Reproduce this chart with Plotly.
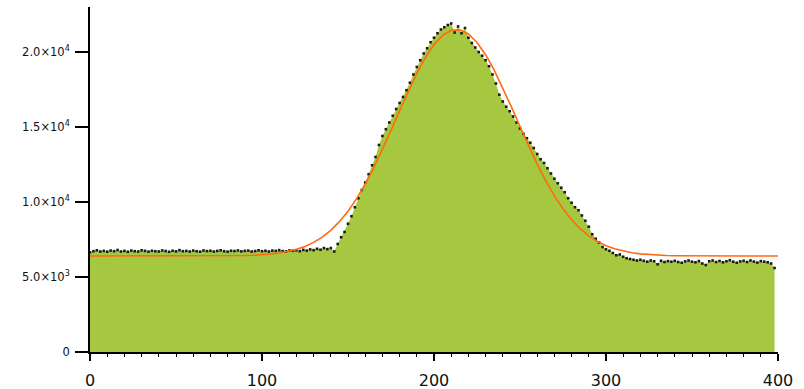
import plotly.graph_objects as go

# Channel positions (every 2 units) and measured counts
channels = list(range(0, 400, 2))
counts = [
    6650, 6720, 6780, 6700, 6740, 6690, 6760, 6720, 6800, 6700,
    6740, 6680, 6760, 6720, 6700, 6780, 6740, 6690, 6750, 6720,
    6700, 6770, 6730, 6680, 6750, 6710, 6790, 6720, 6740, 6700,
    6760, 6720, 6690, 6770, 6730, 6750, 6700, 6740, 6780, 6720,
    6690, 6750, 6730, 6770, 6710, 6740, 6760, 6700, 6730, 6780,
    6720, 6750, 6700, 6760, 6740, 6790, 6730, 6710, 6770, 6750,
    6780, 6720, 6810, 6760, 6840, 6790, 6880, 6820, 6930, 6860,
    6930, 6700, 7200, 7650, 8000, 8550, 9050, 9650, 10250, 10800,
    11300, 11850, 12450, 13000, 13800, 14400, 14850, 15300, 15750, 16200,
    16600, 17000, 17450, 17950, 18500, 19000, 19450, 19900, 20250, 20650,
    20950, 21250, 21500, 21650, 21800, 21900, 21300, 21700, 21250, 21600,
    20950, 20600, 20300, 20000, 19750, 19450, 19050, 18500, 17900, 17150,
    16700, 16350, 16050, 15700, 15300, 14900, 14550, 14250, 13950, 13600,
    13200, 12850, 12600, 12250, 11900, 11550, 11250, 10950, 10650, 10250,
    9950, 9650, 9450, 9100, 8750, 8350, 7850, 7550, 7300, 7000,
    6850, 6750, 6600, 6450, 6500, 6350, 6250, 6200, 6150, 6100,
    6150, 6080, 6020, 6100, 6050, 5850, 6080, 6000, 6060, 6020,
    6080, 6000, 5950, 6040, 6100, 6020, 5980, 6060, 5900, 5800,
    6050, 6100, 6000, 6070, 5980, 6050, 6120, 6020, 5950, 6040,
    6080, 6000, 6100, 6030, 5960, 6060, 6020, 5980, 5900, 5600,
]

# Fitted curve (Gaussian peak on a flat baseline), tabulated every 5 units
fit_x = list(range(0, 405, 5))
fit_y = [
    6400, 6400, 6400, 6400, 6400, 6400, 6400, 6400, 6400, 6400,
    6400, 6400, 6400, 6401, 6402, 6404, 6411, 6419, 6431, 6451,
    6482, 6529, 6599, 6700, 6843, 7040, 7308, 7661, 8115, 8688,
    9388, 10225, 11197, 12296, 13499, 14776, 16081, 17364, 18568, 19631,
    20493, 21110, 21444, 21475, 21201, 20638, 19819, 18793, 17613, 16342,
    15036, 13751, 12529, 11409, 10409, 9545, 8818, 8220, 7742, 7371,
    7087, 6877, 6724, 6616, 6541, 6490, 6457, 6435, 6421, 6412,
    6407, 6404, 6402, 6401, 6400, 6400, 6400, 6400, 6400, 6400,
    6400,
]

y_tick_vals = [0, 5000, 10000, 15000, 20000]
y_tick_text = ["0", "5.0×10<sup>3</sup>", "1.0×10<sup>4</sup>",
               "1.5×10<sup>4</sup>", "2.0×10<sup>4</sup>"]
x_tick_vals = [0, 100, 200, 300, 400]

fig = go.Figure()

# Filled histogram area
fig.add_trace(go.Scatter(
    x=channels, y=counts, mode="lines", line=dict(width=0, color="#a6c740"),
    fill="tozeroy", fillcolor="#a6c740", hoverinfo="skip", showlegend=False,
))
# Individual data points
fig.add_trace(go.Scatter(
    x=channels, y=counts, mode="markers",
    marker=dict(size=2.6, color="#1a1a1a", symbol="square"), showlegend=False,
))
# Fit curve
fig.add_trace(go.Scatter(
    x=fit_x, y=fit_y, mode="lines", line=dict(color="#ff6a10", width=1.6),
    showlegend=False,
))

fig.update_layout(
    width=804, height=389,
    margin=dict(l=90, r=26, t=7, b=37),
    plot_bgcolor="white", paper_bgcolor="white",
    font=dict(family="DejaVu Sans, sans-serif", color="#111"),
)
fig.update_xaxes(
    range=[0, 400], tickvals=x_tick_vals, ticks="outside", ticklen=7,
    tickwidth=1.5, tickcolor="black", showline=True, linecolor="black",
    linewidth=1.8, showgrid=False, zeroline=False, automargin=False,
    tickfont=dict(size=16), ticklabelstandoff=6,
    minor=dict(dtick=10, ticks="outside", ticklen=3, tickwidth=1.2,
               tickcolor="black", showgrid=False),
)
fig.update_yaxes(
    range=[0, 23000], tickvals=y_tick_vals, ticktext=y_tick_text,
    ticks="outside", ticklen=13, tickwidth=1.5, tickcolor="black",
    showline=True, linecolor="black", linewidth=1.8, showgrid=False,
    zeroline=False, automargin=False, tickfont=dict(size=11.5),
    ticklabelstandoff=3,
)

fig.write_html("out.html")
